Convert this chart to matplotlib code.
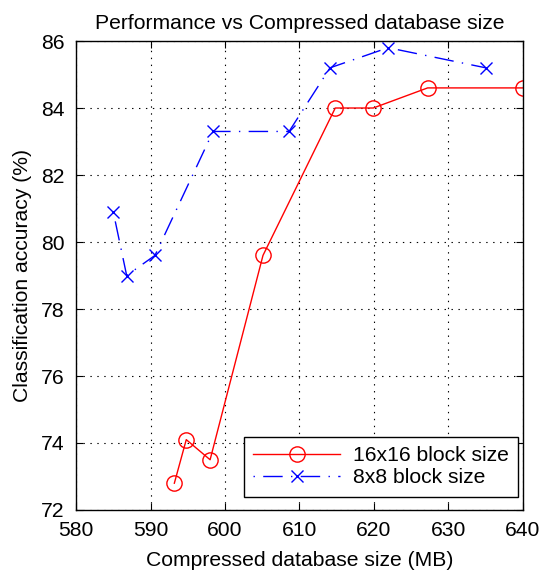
import numpy as np
import matplotlib
matplotlib.use('Agg')
import matplotlib.pyplot as plt

#data
size_16 = [593.2, 594.8, 598.0, 605.1, 614.8, 619.9, 627.2, 640.0]
acc_16 = [72.8, 74.1, 73.5, 79.6, 84.0, 84.0, 84.6, 84.6]
size_8 = [585.0, 586.8, 590.6, 598.4, 608.6, 614.1, 621.9, 635.0]
acc_8 = [80.9, 79.0, 79.6, 83.3, 83.3, 85.2, 85.8, 85.2]

x_ticks = np.arange(580, 641, 10)
y_ticks = np.arange(72, 87, 2)

plt.rcParams['font.family'] = ['Liberation Sans', 'DejaVu Sans']
plt.rcParams['font.size'] = 15.2
plt.rcParams['lines.scale_dashes'] = False

fig = plt.figure(figsize=(5.41, 5.72), dpi=100)
ax = fig.add_axes([0.1405, 0.1084, 0.8262, 0.8199])

ax.plot(size_16, acc_16, '-', color='red', linewidth=1.0, marker='o',
        markersize=11, markerfacecolor='none', markeredgecolor='red',
        markeredgewidth=1.0, label='16x16 block size')
ax.plot(size_8, acc_8, color='blue', linewidth=1.0,
        linestyle=(0, (1, 6, 14, 6)),
        marker='x', markersize=8, markeredgewidth=1.0,
        label='8x8 block size')

ax.set_xlim(580, 640)
ax.set_ylim(72, 86)
ax.set_xticks(x_ticks)
ax.set_yticks(y_ticks)
ax.grid(True, color='black', linestyle=(0, (1, 4)), linewidth=0.8)
ax.tick_params(direction='in', top=True, right=True, length=5, width=0.8, pad=8)
for s in ax.spines.values():
    s.set_linewidth(1.0)

ax.set_title('Performance vs Compressed database size', fontsize=15.2, pad=9)
ax.set_xlabel('Compressed database size (MB)', labelpad=8)
ax.set_ylabel('Classification accuracy (%)', labelpad=7)

leg = ax.legend(loc='lower right', bbox_to_anchor=(0.989, 0.028),
                borderaxespad=0, fancybox=False, handlelength=4.1,
                edgecolor='black', framealpha=1, borderpad=0.45,
                labelspacing=0.15, handletextpad=0.6)
leg.get_frame().set_linewidth(1.0)

plt.savefig('out.png', dpi=100)
